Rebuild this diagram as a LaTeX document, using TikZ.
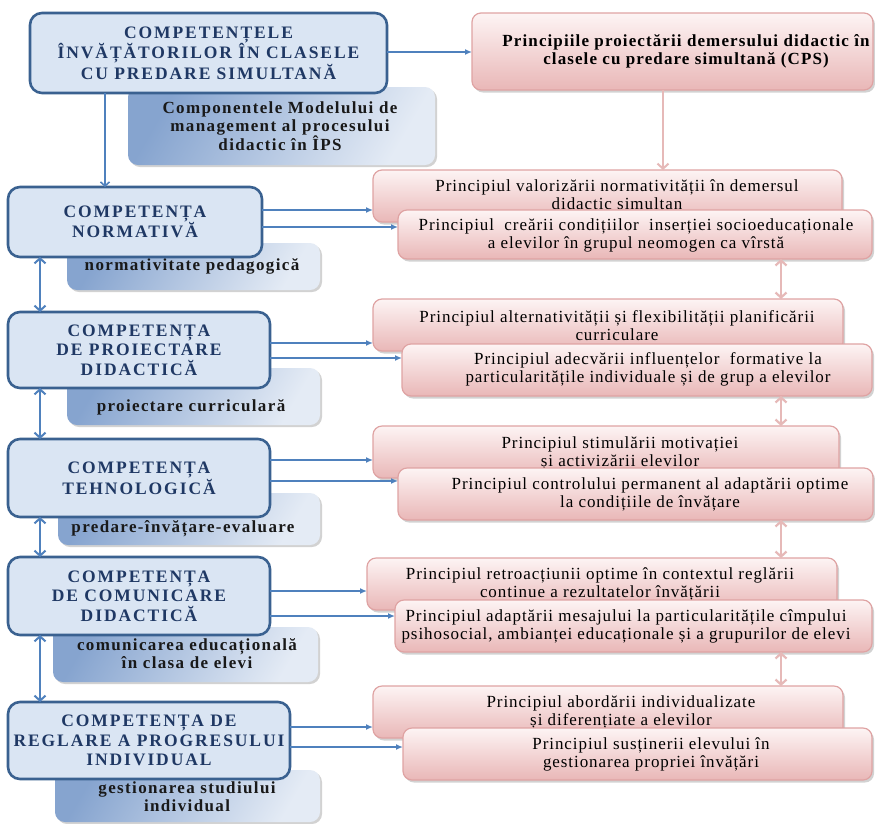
\documentclass[tikz,border=0pt]{standalone}
\usepackage{fontspec}
\setmainfont{Liberation Serif}
\usetikzlibrary{arrows.meta,shadows}
\definecolor{bborder}{HTML}{3A6190}
\definecolor{bfill}{HTML}{DAE5F3}
\definecolor{btext}{HTML}{1F3864}
\definecolor{gdark}{HTML}{86A4CF}
\definecolor{glight}{HTML}{E4EBF5}
\definecolor{pborder}{HTML}{DFA3A3}
\definecolor{ptop}{HTML}{FDF4F4}
\definecolor{pbot}{HTML}{E9B7B7}
\definecolor{barrowc}{HTML}{4F81BD}
\definecolor{parrowc}{HTML}{E6B9B8}
\begin{document}
\begin{tikzpicture}[x=1pt,y=-1pt,
  boxbase/.style={anchor=north west, inner sep=0pt, outer sep=0pt},
  bluebox/.style={boxbase, rounded corners=12pt, draw=bborder, line width=2.6pt, fill=bfill, text=btext,
     font=\bfseries\fontsize{17.5}{19.5}\selectfont\addfontfeature{LetterSpace=11}, align=center},
  graybox/.style={boxbase, rounded corners=10pt, left color=gdark, right color=glight, shading angle=60,
     drop shadow={shadow xshift=2pt, shadow yshift=-2pt, opacity=0.35, fill=gray}},
  pinkbox/.style={boxbase, rounded corners=9pt, draw=pborder, line width=1.2pt, top color=ptop, bottom color=pbot,
     drop shadow={shadow xshift=2pt, shadow yshift=-2.5pt, opacity=0.35, fill=gray}},
  gtext/.style={inner sep=0pt, align=center, text=black!90, font=\bfseries\fontsize{17}{18}\selectfont\addfontfeature{LetterSpace=8}},
  ptext/.style={inner sep=0pt, align=center, font=\fontsize{17}{18}\selectfont\addfontfeature{LetterSpace=5.5}},
  p0text/.style={inner sep=0pt, align=center, font=\bfseries\fontsize{17}{18}\selectfont\addfontfeature{LetterSpace=6.5}},
  barrow/.style={draw=barrowc, line width=1.4pt, -{Latex[length=7pt,width=6pt]}},
  bdown/.style={draw=barrowc, line width=1.6pt, -{Straight Barb[length=4pt,width=9pt]}},
  bdouble/.style={draw=barrowc, line width=2pt, {Straight Barb[length=5pt,width=11pt]}-{Straight Barb[length=5pt,width=11pt]}},
  pdouble/.style={draw=parrowc, line width=2.2pt, {Straight Barb[length=5pt,width=11pt]}-{Straight Barb[length=5pt,width=11pt]}},
  parrow/.style={draw=parrowc, line width=2pt, -{Straight Barb[length=5pt,width=11pt]}}
]
\useasboundingbox (0,0) rectangle (875,823);
\fill[white] (0,0) rectangle (875,823);

% reference lines
\coordinate (vx0) at (105,0);
\coordinate (vx) at (40,0);
\coordinate (px0) at (663,0);
\coordinate (px) at (781,0);

% gray boxes
\node[graybox, minimum width=307pt, minimum height=78pt] (g0) at (128,87) {};
\node[gtext] (g0t) at (280,126) {Componentele Modelului de\\management al procesului\\didactic în ÎPS};
\node[graybox, minimum width=253pt, minimum height=47pt] (g1) at (67,243) {};
\node[gtext] (g1t) at (192,266) {normativitate pedagogică};
\node[graybox, minimum width=253pt, minimum height=57pt] (g2) at (67,368) {};
\node[gtext] (g2t) at (191,407) {proiectare curriculară};
\node[graybox, minimum width=262pt, minimum height=52pt] (g3) at (58,493) {};
\node[gtext] (g3t) at (183,529) {predare-învățare-evaluare};
\node[graybox, minimum width=265pt, minimum height=55pt] (g4) at (53,627) {};
\node[gtext] (g4t) at (187,654) {comunicarea educațională\\în clasa de elevi};
\node[graybox, minimum width=265pt, minimum height=52pt] (g5) at (55,770) {};
\node[gtext] (g5t) at (187,797) {gestionarea studiului\\individual};

% blue boxes
\node[bluebox, minimum width=357pt, minimum height=80pt] (c0) at (30,13) {COMPETENȚELE\\ÎNVĂȚĂTORILOR ÎN CLASELE\\CU PREDARE SIMULTANĂ};
\node[bluebox, minimum width=254pt, minimum height=70pt] (c1) at (8,187) {COMPETENȚA\\NORMATIVĂ};
\node[bluebox, minimum width=262pt, minimum height=76pt] (c2) at (8,312) {COMPETENȚA\\DE PROIECTARE\\DIDACTICĂ};
\node[bluebox, minimum width=262pt, minimum height=78pt] (c3) at (8,439) {COMPETENȚA\\TEHNOLOGICĂ};
\node[bluebox, minimum width=262pt, minimum height=78pt] (c4) at (8,557) {COMPETENȚA\\DE COMUNICARE\\DIDACTICĂ};
\node[bluebox, minimum width=282pt, minimum height=77pt] (c5) at (8,702) {COMPETENȚA DE\\REGLARE A PROGRESULUI\\INDIVIDUAL};

% pink boxes
\node[pinkbox, minimum width=401pt, minimum height=77pt] (p0) at (472,13) {};
\node[p0text] (p0t) at (686,51) {Principiile proiectării demersului didactic în\\clasele cu predare simultană (CPS)};

\node[pinkbox, minimum width=469pt, minimum height=52pt] (a1) at (373,170) {};
\node[ptext] (a1t) at (617,195) {Principiul valorizării normativității în demersul\\didactic simultan};
\node[pinkbox, minimum width=474pt, minimum height=49pt] (b1) at (398,210) {};
\node[ptext] (b1t) at (636,235) {Principiul\ \ creării condițiilor\ \ inserției socioeducaționale\\a elevilor în grupul neomogen ca vîrstă};

\node[pinkbox, minimum width=470pt, minimum height=52pt] (a2) at (373,299) {};
\node[ptext] (a2t) at (617,326) {Principiul alternativității și flexibilității planificării\\curriculare};
\node[pinkbox, minimum width=470pt, minimum height=52pt] (b2) at (402,344) {};
\node[ptext] (b2t) at (648,369) {Principiul adecvării influențelor\ \ formative la\\particularitățile individuale și de grup a elevilor};

\node[pinkbox, minimum width=466pt, minimum height=52pt] (a3) at (373,426) {};
\node[ptext] (a3t) at (620,453) {Principiul stimulării motivației\\și activizării elevilor};
\node[pinkbox, minimum width=475pt, minimum height=52pt] (b3) at (398,468) {};
\node[ptext] (b3t) at (650,494) {Principiul controlului permanent al adaptării optime\\la condițiile de învățare};

\node[pinkbox, minimum width=470pt, minimum height=52pt] (a4) at (367,558) {};
\node[ptext] (a4t) at (600,584) {Principiul retroacțiunii optime în contextul reglării\\continue a rezultatelor învățării};
\node[pinkbox, minimum width=477pt, minimum height=52pt] (b4) at (395,600) {};
\node[ptext] (b4t) at (626,626) {Principiul adaptării mesajului la particularitățile cîmpului\\psihosocial, ambianței educaționale și a grupurilor de elevi};

\node[pinkbox, minimum width=470pt, minimum height=52pt] (a5) at (373,686) {};
\node[ptext] (a5t) at (621,712) {Principiul abordării individualizate\\și diferențiate a elevilor};
\node[pinkbox, minimum width=469pt, minimum height=52pt] (b5) at (403,728) {};
\node[ptext] (b5t) at (651,754) {Principiul susținerii elevului în\\gestionarea propriei învățări};

% y levels for horizontal arrows
\coordinate (y0) at (0,52);
\coordinate (y1a) at (0,210); \coordinate (y1b) at (0,227);
\coordinate (y2a) at (0,343); \coordinate (y2b) at (0,358);
\coordinate (y3a) at (0,460); \coordinate (y3b) at (0,481);
\coordinate (y4a) at (0,591); \coordinate (y4b) at (0,616);
\coordinate (y5a) at (0,727); \coordinate (y5b) at (0,747);

% blue arrows
\draw[barrow] (c0.east |- y0) -- (p0.west |- y0);
\draw[bdown] (c0.south -| vx0) -- (c1.north -| vx0);
\draw[bdouble] (c1.south -| vx) -- (c2.north -| vx);
\draw[bdouble] (c2.south -| vx) -- (c3.north -| vx);
\draw[bdouble] (c3.south -| vx) -- (c4.north -| vx);
\draw[bdouble] (c4.south -| vx) -- (c5.north -| vx);

\draw[barrow] (c1.east |- y1a) -- (a1.west |- y1a);
\draw[barrow] (c1.east |- y1b) -- (b1.west |- y1b);
\draw[barrow] (c2.east |- y2a) -- (a2.west |- y2a);
\draw[barrow] (c2.east |- y2b) -- (b2.west |- y2b);
\draw[barrow] (c3.east |- y3a) -- (a3.west |- y3a);
\draw[barrow] (c3.east |- y3b) -- (b3.west |- y3b);
\draw[barrow] (c4.east |- y4a) -- (a4.west |- y4a);
\draw[barrow] (c4.east |- y4b) -- (b4.west |- y4b);
\draw[barrow] (c5.east |- y5a) -- (a5.west |- y5a);
\draw[barrow] (c5.east |- y5b) -- (b5.west |- y5b);

% pink arrows
\draw[parrow] (p0.south -| px0) -- (a1.north -| px0);
\draw[pdouble] (b1.south -| px) -- (a2.north -| px);
\draw[pdouble] (b2.south -| px) -- (a3.north -| px);
\draw[pdouble] (b3.south -| px) -- (a4.north -| px);
\draw[pdouble] (b4.south -| px) -- (a5.north -| px);
\end{tikzpicture}
\end{document}
